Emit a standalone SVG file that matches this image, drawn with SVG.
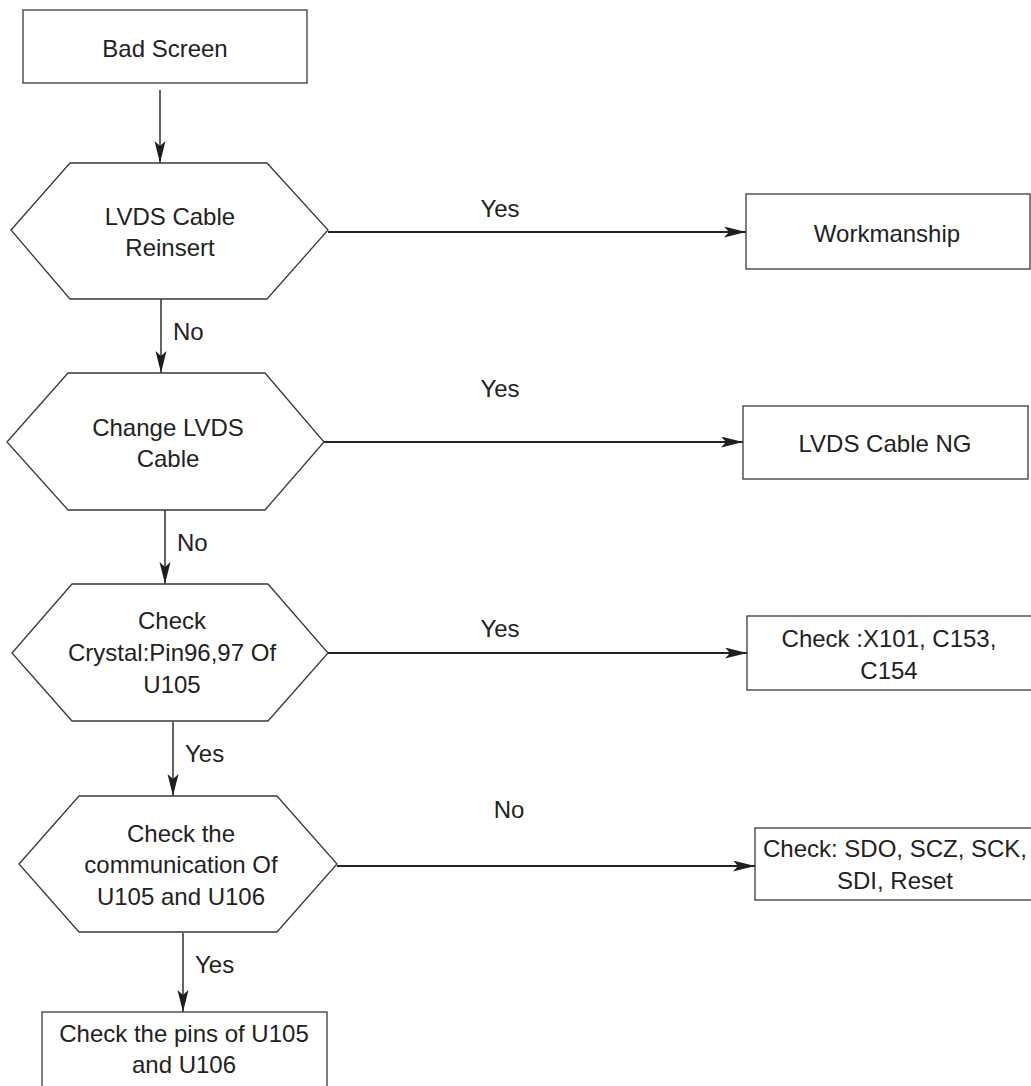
<svg xmlns="http://www.w3.org/2000/svg" width="1031" height="1086" viewBox="0 0 1031 1086">
<defs>
<marker id="ah" markerUnits="userSpaceOnUse" markerWidth="24" markerHeight="12" refX="22" refY="5.5" orient="auto">
<path d="M0,0 L22,5.5 L0,11 L5,5.5 z" fill="#1e1e1e"/>
</marker>
<style>
.box{fill:#fff;stroke:#3a3a3a;stroke-width:1.3}
.t{font-family:"Liberation Sans",Arial,sans-serif;font-size:24px;fill:#222;text-anchor:middle}
.l{font-family:"Liberation Sans",Arial,sans-serif;font-size:24px;fill:#222}
.v{stroke:#222;stroke-width:1.4;fill:none;marker-end:url(#ah)}
.h{stroke:#222;stroke-width:2.2;fill:none;marker-end:url(#ah)}
</style>
</defs>
<rect width="1031" height="1086" fill="#fff"/>
<g id="connectors">
<line class="v" x1="160" y1="90" x2="160" y2="163"/>
<line class="v" x1="161" y1="299" x2="161" y2="373"/>
<line class="v" x1="165" y1="510" x2="165" y2="584"/>
<line class="v" x1="173" y1="722" x2="173" y2="796"/>
<line class="v" x1="183" y1="933" x2="183" y2="1012"/>
<line class="h" x1="328" y1="232" x2="746" y2="232"/>
<line class="h" x1="324" y1="442" x2="743" y2="442"/>
<line class="h" x1="328" y1="653" x2="747" y2="653"/>
<line class="h" x1="337" y1="866" x2="755" y2="866"/>
<text class="l" x="173" y="340">No</text>
<text class="l" x="177" y="551">No</text>
<text class="l" x="185" y="762">Yes</text>
<text class="l" x="195" y="973">Yes</text>
<text class="t" x="500" y="217">Yes</text>
<text class="t" x="500" y="397">Yes</text>
<text class="t" x="500" y="637">Yes</text>
<text class="t" x="509" y="818">No</text>
</g>
<g id="bad-screen">
<rect class="box" x="23" y="10" width="284" height="73"/>
<text class="t" x="165" y="57">Bad Screen</text>
</g>
<g id="lvds-reinsert">
<polygon class="box" points="11,230 70,163 267,163 328,230 267,299 70,299"/>
<text class="t" x="170" y="225">LVDS Cable</text>
<text class="t" x="170" y="256">Reinsert</text>
</g>
<g id="workmanship">
<rect class="box" x="746" y="194" width="284" height="75"/>
<text class="t" x="887" y="242">Workmanship</text>
</g>
<g id="change-lvds">
<polygon class="box" points="7,442 68,373 265,373 324,442 265,510 68,510"/>
<text class="t" x="168" y="436">Change LVDS</text>
<text class="t" x="168" y="467">Cable</text>
</g>
<g id="lvds-ng">
<rect class="box" x="743" y="406" width="285" height="73"/>
<text class="t" x="885" y="452">LVDS Cable NG</text>
</g>
<g id="check-crystal">
<polygon class="box" points="12,653 72,584 268,584 328,653 268,721 72,721"/>
<text class="t" x="172" y="629">Check</text>
<text class="t" x="172" y="661">Crystal:Pin96,97 Of</text>
<text class="t" x="172" y="693">U105</text>
</g>
<g id="check-x101">
<rect class="box" x="747" y="616" width="300" height="74"/>
<text class="t" x="889" y="647">Check :X101, C153,</text>
<text class="t" x="889" y="679">C154</text>
</g>
<g id="check-comm">
<polygon class="box" points="19,864 79,796 277,796 337,864 277,932 79,932"/>
<text class="t" x="181" y="842">Check the</text>
<text class="t" x="181" y="873">communication Of</text>
<text class="t" x="181" y="905">U105 and U106</text>
</g>
<g id="check-sdo">
<rect class="box" x="755" y="828" width="300" height="72"/>
<text class="t" x="895" y="857">Check: SDO, SCZ, SCK,</text>
<text class="t" x="895" y="889">SDI, Reset</text>
</g>
<g id="check-pins">
<rect class="box" x="42" y="1012" width="285" height="100"/>
<text class="t" x="184" y="1042">Check the pins of U105</text>
<text class="t" x="184" y="1073">and U106</text>
</g>
</svg>
